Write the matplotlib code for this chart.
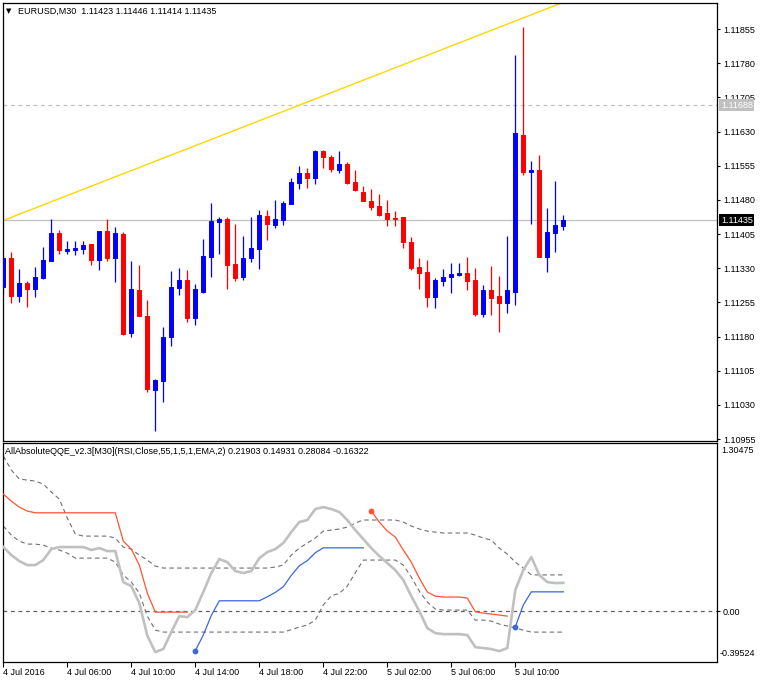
import matplotlib
matplotlib.use('Agg')
import matplotlib.pyplot as plt
import matplotlib.transforms as mtransforms
import numpy as np

plt.rcParams['font.family'] = ['Liberation Sans', 'DejaVu Sans']

nan = np.nan

# EURUSD M30 candles, bar 0 = 4 Jul 02:00
opens = [1.11289, 1.11352, 1.11269, 1.11297, 1.11284, 1.11308, 1.11346, 1.11407, 1.11368, 1.11370,
         1.11372, 1.11383, 1.11348, 1.11412, 1.11352, 1.11405, 1.11188, 1.11282, 1.11225, 1.11063,
         1.11082, 1.11179, 1.11286, 1.11304, 1.11221, 1.11278, 1.11354, 1.11431, 1.11438, 1.11339,
         1.11311, 1.11352, 1.11372, 1.11445, 1.11425, 1.11436, 1.11471, 1.11517, 1.11539, 1.11528,
         1.11587, 1.11574, 1.11545, 1.11559, 1.11519, 1.11497, 1.11477, 1.11466, 1.11451, 1.11440,
         1.11442, 1.11387, 1.11333, 1.11322, 1.11267, 1.11302, 1.11311, 1.11315, 1.11319, 1.11304,
         1.11229, 1.11282, 1.11269, 1.11254, 1.11278, 1.11622, 1.11541, 1.11545, 1.11354, 1.11407,
         1.11423]
highs = [1.11354, 1.11365, 1.11328, 1.11302, 1.11333, 1.11376, 1.11438, 1.11414, 1.11390, 1.11390,
         1.11390, 1.11383, 1.11412, 1.11438, 1.11420, 1.11409, 1.11346, 1.11337, 1.11260, 1.11087,
         1.11201, 1.11324, 1.11330, 1.11326, 1.11295, 1.11394, 1.11473, 1.11442, 1.11442, 1.11427,
         1.11401, 1.11442, 1.11458, 1.11458, 1.11480, 1.11477, 1.11528, 1.11554, 1.11550, 1.11589,
         1.11589, 1.11578, 1.11587, 1.11563, 1.11545, 1.11510, 1.11504, 1.11493, 1.11480, 1.11455,
         1.11442, 1.11398, 1.11352, 1.11348, 1.11308, 1.11328, 1.11341, 1.11341, 1.11354, 1.11330,
         1.11293, 1.11335, 1.11313, 1.11401, 1.11798, 1.11859, 1.11565, 1.11578, 1.11462, 1.11521,
         1.11446]
lows = [1.11273, 1.11254, 1.11256, 1.11245, 1.11267, 1.11306, 1.11346, 1.11361, 1.11361, 1.11359,
        1.11361, 1.11337, 1.11326, 1.11346, 1.11300, 1.11183, 1.11179, 1.11225, 1.11058, 1.10973,
        1.11036, 1.11159, 1.11271, 1.11212, 1.11205, 1.11275, 1.11311, 1.11361, 1.11284, 1.11302,
        1.11304, 1.11344, 1.11328, 1.11392, 1.11418, 1.11425, 1.11471, 1.11504, 1.11506, 1.11515,
        1.11550, 1.11541, 1.11539, 1.11515, 1.11499, 1.11477, 1.11458, 1.11445, 1.11423, 1.11423,
        1.11374, 1.11326, 1.11284, 1.11245, 1.11243, 1.11291, 1.11275, 1.11313, 1.11282, 1.11225,
        1.11223, 1.11227, 1.11190, 1.11232, 1.11249, 1.11535, 1.11427, 1.11354, 1.11322, 1.11365,
        1.11414]
closes = [1.11352, 1.11269, 1.11297, 1.11284, 1.11311, 1.11348, 1.11407, 1.11370, 1.11372, 1.11374,
          1.11381, 1.11348, 1.11412, 1.11352, 1.11407, 1.11185, 1.11284, 1.11225, 1.11065, 1.11085,
          1.11179, 1.11289, 1.11304, 1.11221, 1.11284, 1.11357, 1.11434, 1.11438, 1.11337, 1.11308,
          1.11352, 1.11374, 1.11447, 1.11427, 1.11438, 1.11473, 1.11519, 1.11539, 1.11528, 1.11587,
          1.11574, 1.11548, 1.11559, 1.11517, 1.11502, 1.11477, 1.11464, 1.11447, 1.11438, 1.11439,
          1.11387, 1.11330, 1.11319, 1.11267, 1.11304, 1.11311, 1.11317, 1.11319, 1.11302, 1.11229,
          1.11282, 1.11264, 1.11254, 1.11282, 1.11627, 1.11541, 1.11545, 1.11354, 1.11409, 1.11425,
          1.11435]

price_ticks = [1.10955, 1.11030, 1.11105, 1.11180, 1.11255, 1.11330, 1.11405, 1.11480,
               1.11555, 1.11630, 1.11705, 1.11780, 1.11855]
price_lim = (1.109507, 1.119132)
last_price = 1.11435
level_price = 1.11688
trend_bars = [-1, 80]
trend_prices = [1.11428, 1.11982]

# AllAbsoluteQQE indicator
qqe = [0.497, 0.435, 0.388, 0.357, 0.357, 0.396, 0.481, 0.497, 0.497, 0.497,
       0.497, 0.474, 0.489, 0.466, 0.466, 0.225, 0.194, 0.062, -0.190, -0.318,
       -0.295, -0.163, -0.039, -0.047, 0.008, 0.148, 0.295, 0.404, 0.380, 0.311,
       0.295, 0.311, 0.411, 0.458, 0.481, 0.528, 0.613, 0.691, 0.707, 0.792,
       0.807, 0.792, 0.769, 0.707, 0.629, 0.559, 0.489, 0.427, 0.373, 0.318,
       0.241, 0.116, 0.000, -0.132, -0.171, -0.179, -0.179, -0.179, -0.186, -0.280,
       -0.287, -0.295, -0.311, -0.287, 0.163, 0.318, 0.419, 0.280, 0.225, 0.217, 0.21903]
qqe_red = [0.908, 0.854, 0.807, 0.776, 0.763, 0.763, 0.763, 0.763, 0.763, 0.763,
           0.763, 0.763, 0.763, 0.763, 0.763, 0.543, 0.481, 0.357, 0.140, -0.008,
           -0.008, -0.008, -0.008, -0.008, nan, nan, nan, nan, nan, nan,
           nan, nan, nan, nan, nan, nan, nan, nan, nan, nan,
           nan, nan, nan, nan, nan, nan, 0.776, 0.691, 0.621, 0.575,
           0.474, 0.380, 0.256, 0.148, 0.116, 0.109, 0.109, 0.109, 0.101, -0.005,
           -0.016, -0.023, -0.031, -0.039, nan, nan, nan, nan, nan, nan, nan]
qqe_blue = [nan, nan, nan, nan, nan, nan, nan, nan, nan, nan,
            nan, nan, nan, nan, nan, nan, nan, nan, nan, nan,
            nan, nan, nan, nan, -0.308, -0.186, -0.034, 0.080, 0.080, 0.080,
            0.080, 0.080, 0.080, 0.111, 0.145, 0.189, 0.277, 0.352, 0.391, 0.453,
            0.491, 0.491, 0.491, 0.491, 0.491, 0.491, nan, nan, nan, nan,
            nan, nan, nan, nan, nan, nan, nan, nan, nan, nan,
            nan, nan, nan, nan, -0.122, 0.047, 0.14931, 0.14931, 0.14931, 0.14931, 0.14931]
band_up = [1.203, 1.095, 1.025, 1.017, 1.009, 0.986, 0.924, 0.870, 0.722, 0.598,
           0.582, 0.582, 0.582, 0.582, 0.567, 0.497, 0.481, 0.435, 0.396, 0.349,
           0.334, 0.334, 0.334, 0.334, 0.334, 0.334, 0.334, 0.334, 0.334, 0.334,
           0.334, 0.334, 0.334, 0.334, 0.342, 0.357, 0.435, 0.489, 0.528, 0.567,
           0.621, 0.629, 0.637, 0.652, 0.683, 0.707, 0.707, 0.707, 0.707, 0.707,
           0.691, 0.660, 0.637, 0.621, 0.613, 0.606, 0.606, 0.606, 0.606, 0.590,
           0.567, 0.551, 0.489, 0.443, 0.380, 0.334, 0.28084, 0.28084, 0.28084, 0.28084, 0.28084]
band_dn = [0.660, 0.590, 0.543, 0.520, 0.520, 0.512, 0.489, 0.474, 0.450, 0.411,
           0.411, 0.411, 0.411, 0.411, 0.380, 0.280, 0.225, 0.140, -0.039, -0.148,
           -0.163, -0.163, -0.163, -0.163, -0.163, -0.163, -0.163, -0.163, -0.163, -0.163,
           -0.163, -0.163, -0.163, -0.163, -0.163, -0.163, -0.144, -0.124, -0.109, -0.070,
           0.047, 0.119, 0.137, 0.194, 0.297, 0.396, 0.396, 0.396, 0.396, 0.396,
           0.357, 0.264, 0.155, 0.070, 0.016, 0.008, 0.008, 0.008, 0.008, -0.070,
           -0.070, -0.078, -0.101, -0.116, -0.132, -0.148, -0.16322, -0.16322, -0.16322, -0.16322, -0.16322]
ind_lim = (-0.39524, 1.30475)

date_ticks = [0, 8, 16, 24, 32, 40, 48, 56, 64]
date_labels = ['4 Jul 2016', '4 Jul 06:00', '4 Jul 10:00', '4 Jul 14:00', '4 Jul 18:00',
               '4 Jul 22:00', '5 Jul 02:00', '5 Jul 06:00', '5 Jul 10:00']
bar_lim = (-0.1, 89.25)

header = 'EURUSD,M30  1.11423 1.11446 1.11414 1.11435'
ind_header = 'AllAbsoluteQQE_v2.3[M30](RSI,Close,55,1,5,1,EMA,2) 0.21903 0.14931 0.28084 -0.16322'

FS = 6.5
W, H = 760.0, 683.0
def box(x0, y0, x1, y1):
    return [x0 / W, 1 - y1 / H, (x1 - x0) / W, (y1 - y0) / H]

fig = plt.figure(figsize=(7.6, 6.83), dpi=100)
ax = fig.add_axes(box(2.5, 2.5, 717.3, 441))
ax2 = fig.add_axes(box(2.5, 443, 717.3, 662))

for a in (ax, ax2):
    for s in a.spines.values():
        s.set_linewidth(0.9)
        s.set_color('black')
    a.set_xlim(*bar_lim)

# ---- price pane
bars = np.arange(len(opens))
o, h, l, c = map(np.array, (opens, highs, lows, closes))
colors = np.where(c >= o, '#0000FF', '#FF0000')

ax.axhline(last_price, color='#C0C0C0', lw=0.9, zorder=1)
ax.axhline(level_price, color='#C0C0C0', lw=0.9, ls=(0, (3, 3)), zorder=1)
ax.plot(trend_bars, trend_prices, color='#FFD700', lw=1.0, zorder=1)
ax.vlines(bars, l, h, colors=colors, lw=0.9, zorder=2)
ax.bar(bars, np.abs(c - o), bottom=np.minimum(o, c), width=0.52,
       color=colors, edgecolor=colors, linewidth=0.7, zorder=3)

ax.set_ylim(*price_lim)
ax.set_xticks([])
ax.yaxis.tick_right()
ax.set_yticks(price_ticks)
ax.set_yticklabels(['%.5f' % p for p in price_ticks])
ax.tick_params(axis='y', direction='out', length=2.5, width=0.8, pad=1.5, labelsize=FS)

ytr = ax.get_yaxis_transform()
ax.text(1.005, level_price, '%.5f' % level_price, transform=ytr, color='white', fontsize=FS,
        va='center', ha='left', clip_on=False, zorder=5,
        bbox=dict(facecolor='#C0C0C0', edgecolor='none', pad=1.2))
ax.text(1.005, last_price, '%.5f' % last_price, transform=ytr, color='white', fontsize=FS,
        va='center', ha='left', clip_on=False, zorder=5,
        bbox=dict(facecolor='black', edgecolor='none', pad=1.2))

fig.text(6 / W, 1 - 11 / H, '\u25bc', fontsize=5, va='center', ha='left', family=['DejaVu Sans'])
fig.text(18 / W, 1 - 11 / H, header, fontsize=FS, va='center', ha='left')

# ---- indicator pane
ax2.axhline(0, color='#606060', lw=0.9, ls=(0, (3, 3)), zorder=1)
ax2.plot(bars, band_up, color='#707070', lw=0.8, ls=(0, (4, 3)), zorder=2)
ax2.plot(bars, band_dn, color='#707070', lw=0.8, ls=(0, (4, 3)), zorder=2)
ax2.plot(bars, qqe, color='#C0C0C0', lw=1.9, zorder=3)
red = np.array(qqe_red)
blue = np.array(qqe_blue)
ax2.plot(bars, red, color='#FF5533', lw=0.9, zorder=4)
ax2.plot(bars, blue, color='#3A66E0', lw=0.9, zorder=4)
for arr, col in ((red, '#FF5533'), (blue, '#3A66E0')):
    starts = [i for i in range(1, len(arr)) if np.isnan(arr[i - 1]) and not np.isnan(arr[i])]
    ax2.plot(bars[starts], arr[starts], 'o', color=col, ms=4.2, mec='none', zorder=5)

ax2.set_ylim(*ind_lim)
ax2.yaxis.tick_right()
ax2.set_yticks([0])
ax2.set_yticklabels(['0.00'])
ax2.tick_params(axis='y', direction='out', length=2.5, width=0.8, pad=1.5, labelsize=FS)
ytr2 = ax2.get_yaxis_transform()
ax2.text(1.006, ind_lim[1], '%.5f' % ind_lim[1], fontsize=FS, va='top', ha='left', clip_on=False,
         transform=mtransforms.offset_copy(ytr2, fig=fig, y=-2, units='points'))
ax2.text(1.003, ind_lim[0], '%.5f' % ind_lim[0], fontsize=FS, va='bottom', ha='left', clip_on=False,
         transform=mtransforms.offset_copy(ytr2, fig=fig, y=3, units='points'))

ax2.set_xticks(date_ticks)
ax2.set_xticklabels(date_labels)
for t in ax2.get_xticklabels():
    t.set_ha('left')
ax2.tick_params(axis='x', direction='out', length=3.5, width=0.8, pad=1.0, labelsize=FS)
ax2.text(0.004, 0.962, ind_header, transform=ax2.transAxes, fontsize=FS, va='center', ha='left')

fig.savefig('out.png', dpi=100, facecolor='white')
